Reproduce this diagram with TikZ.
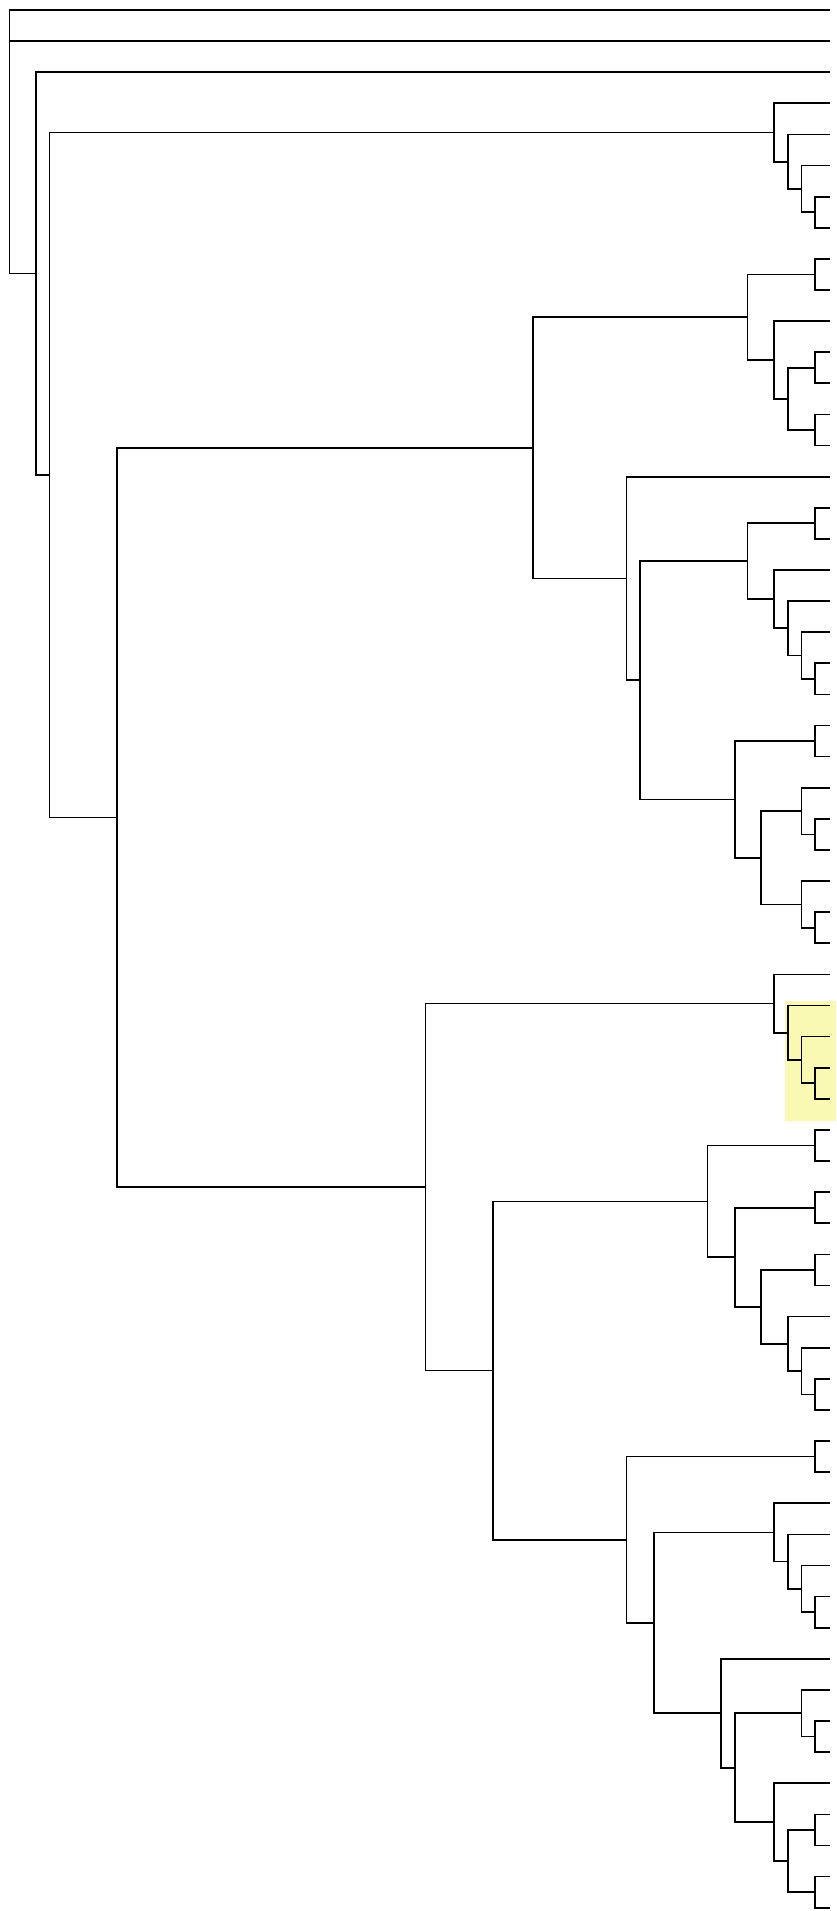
\documentclass[tikz,border=0pt]{standalone}
\usetikzlibrary{calc}
\definecolor{hilite}{RGB}{249,249,180}
\tikzset{dendro/.style={draw=black,line width=1.7pt}}
\newcommand\joinnode[4]{%
  \path let \p1=($(#3)!.5!(#4)$) in (#2pt,\y1) coordinate (#1);
  \draw[dendro] (#1) |- (#3);
  \draw[dendro] (#1) |- (#4);}
\begin{document}
\begin{tikzpicture}[x=1pt,y=-1pt]
\useasboundingbox (0,0) rectangle (836,1911);
\fill[hilite] (785,1001) rectangle (836,1121);
\foreach \i in {0,...,61} \coordinate (l\i) at (830,{10+31.11*\i});
\joinnode{F}{814.7}{l6}{l7}
\joinnode{E}{801.4}{l5}{F}
\joinnode{D}{788}{l4}{E}
\joinnode{C}{774}{l3}{D}
\joinnode{J}{814.7}{l8}{l9}
\joinnode{M}{814.7}{l11}{l12}
\joinnode{N}{814.7}{l13}{l14}
\joinnode{L}{788}{M}{N}
\joinnode{K}{774}{l10}{L}
\joinnode{I}{747.5}{J}{K}
\joinnode{S}{814.7}{l16}{l17}
\joinnode{W}{814.7}{l21}{l22}
\joinnode{V}{801.4}{l20}{W}
\joinnode{U}{788}{l19}{V}
\joinnode{T}{774}{l18}{U}
\joinnode{Q}{747.5}{S}{T}
\joinnode{X}{814.7}{l23}{l24}
\joinnode{AA}{814.7}{l26}{l27}
\joinnode{Z}{801.4}{l25}{AA}
\joinnode{AC}{814.7}{l29}{l30}
\joinnode{AB}{801.4}{l28}{AC}
\joinnode{Y}{760.8}{Z}{AB}
\joinnode{R}{734.7}{X}{Y}
\joinnode{P}{640}{Q}{R}
\joinnode{O}{626.5}{l15}{P}
\joinnode{H}{533}{I}{O}
\joinnode{AH}{814.7}{l34}{l35}
\joinnode{AG}{801.4}{l33}{AH}
\joinnode{AF}{788}{l32}{AG}
\joinnode{AE}{774}{l31}{AF}
\joinnode{AK}{814.7}{l36}{l37}
\joinnode{AM}{814.7}{l38}{l39}
\joinnode{AO}{814.7}{l40}{l41}
\joinnode{AR}{814.7}{l44}{l45}
\joinnode{AQ}{801.4}{l43}{AR}
\joinnode{AP}{788}{l42}{AQ}
\joinnode{AN}{760.8}{AO}{AP}
\joinnode{AL}{734.7}{AM}{AN}
\joinnode{AJ}{707.5}{AK}{AL}
\joinnode{AT}{814.7}{l46}{l47}
\joinnode{AY}{814.7}{l51}{l52}
\joinnode{AX}{801.4}{l50}{AY}
\joinnode{AW}{788}{l49}{AX}
\joinnode{AV}{774}{l48}{AW}
\joinnode{BC}{814.7}{l55}{l56}
\joinnode{BB}{801.4}{l54}{BC}
\joinnode{BF}{814.7}{l58}{l59}
\joinnode{BG}{814.7}{l60}{l61}
\joinnode{BE}{788}{BF}{BG}
\joinnode{BD}{774}{l57}{BE}
\joinnode{BA}{734.7}{BB}{BD}
\joinnode{AZ}{720.8}{l53}{BA}
\joinnode{AU}{654.2}{AV}{AZ}
\joinnode{AS}{626.5}{AT}{AU}
\joinnode{AI}{492.7}{AJ}{AS}
\joinnode{AD}{425.5}{AE}{AI}
\joinnode{G}{117.3}{H}{AD}
\joinnode{B}{49.6}{C}{G}
\joinnode{A}{36.3}{l2}{B}
\joinnode{root}{9.6}{l0}{A}
\draw[dendro] (root) |- (l1);
\end{tikzpicture}
\end{document}
